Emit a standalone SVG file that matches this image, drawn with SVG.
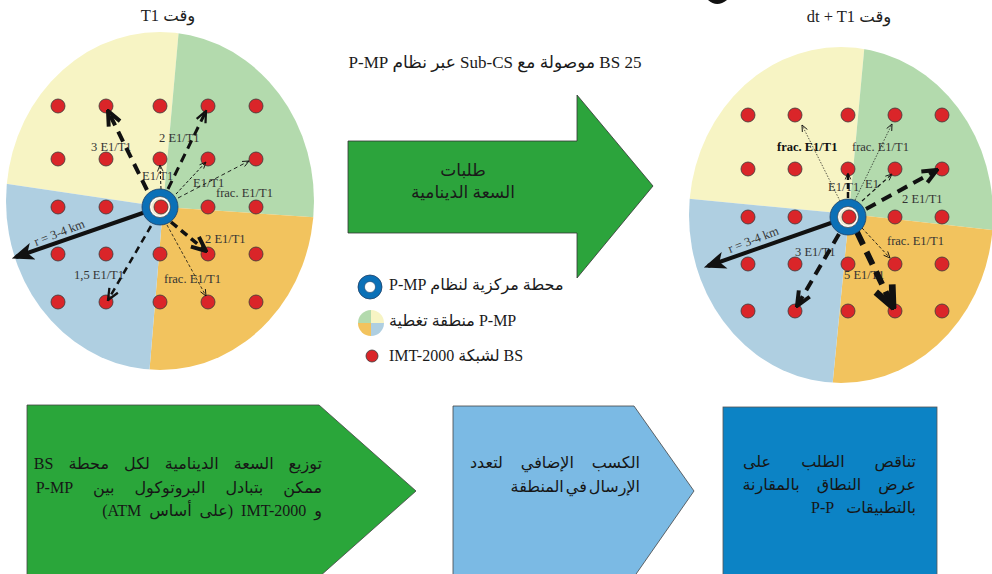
<svg xmlns="http://www.w3.org/2000/svg" width="992" height="574" viewBox="0 0 992 574">
<defs>
<style>
.lat{font-family:"Liberation Serif","Times New Roman",serif;font-size:12.5px;fill:#333}
.latb{font-family:"Liberation Serif","Times New Roman",serif;font-size:12.5px;fill:#111;font-weight:bold}
.ttl{font-family:"Liberation Serif","DejaVu Sans",serif;font-size:16.5px;fill:#222}
.ar{font-family:"Liberation Serif","DejaVu Sans",serif;font-size:16px;fill:#1a1a1a}
.box{font-family:"Liberation Serif","DejaVu Sans",serif;font-size:16px;fill:#161616}
.dot{fill:#DA2529;stroke:#3a3a3a;stroke-width:0.8}
.yel{fill:#F7F4C4}.grn{fill:#B3DAAD}.blu{fill:#AFCFE1}.org{fill:#F2C35E}
.cn{fill:none;stroke:#111}
.hubo{fill:#0B70B7;stroke:#1d3f66;stroke-width:0.8}
.hubi{fill:#fff;stroke:#444;stroke-width:0.7}
</style>
<marker id="hs" viewBox="0 0 10 10" refX="9" refY="5" markerWidth="8" markerHeight="8" markerUnits="userSpaceOnUse" orient="auto"><path d="M1,1.5 L9,5 L1,8.5" fill="none" stroke="#111" stroke-width="1.1"/></marker>
<marker id="hm" viewBox="0 0 10 10" refX="9" refY="5" markerWidth="14" markerHeight="14" markerUnits="userSpaceOnUse" orient="auto"><path d="M1,1.5 L9,5 L1,8.5" fill="none" stroke="#111" stroke-width="1.6"/></marker>
<marker id="hl" viewBox="0 0 10 10" refX="9" refY="5" markerWidth="18" markerHeight="18" markerUnits="userSpaceOnUse" orient="auto"><path d="M1,1.5 L9,5 L1,8.5" fill="none" stroke="#111" stroke-width="2.2"/></marker>
<marker id="hx" viewBox="0 0 10 10" refX="9" refY="5" markerWidth="26" markerHeight="26" markerUnits="userSpaceOnUse" orient="auto"><path d="M1,1.5 L9,5 L1,8.5" fill="none" stroke="#111" stroke-width="2.6"/></marker>
<marker id="hf" viewBox="0 0 10 10" refX="8" refY="5" markerWidth="22" markerHeight="22" markerUnits="userSpaceOnUse" orient="auto"><path d="M0,1 L10,5 L0,9 L2.5,5 z" fill="#111"/></marker>
<clipPath id="clipL"><ellipse cx="160" cy="201" rx="154" ry="169"/></clipPath>
<clipPath id="clipR"><ellipse cx="841" cy="215" rx="152" ry="168"/></clipPath>
<circle id="bs" r="7" class="dot"/>
</defs>

<!-- truncated glyph at the top edge -->
<path d="M708,0 Q717,8 727,0 Z" fill="#111"/>

<!-- titles -->
<text class="ttl" x="168" y="21" text-anchor="middle" direction="rtl">وقت T1</text>
<text class="ttl" x="849" y="22" text-anchor="middle" direction="rtl">وقت dt + T1</text>
<text class="ar" x="495" y="68" text-anchor="middle" direction="rtl" style="font-size:17px">25 BS موصولة مع Sub-CS عبر نظام P-MP</text>

<!-- coverage area at time T1 -->
<g id="coverage-left" clip-path="url(#clipL)">
  <polygon class="yel" points="163,207 182,-5 -20,-5 -20,180"/>
  <polygon class="grn" points="163,207 182,-5 340,-5 340,219"/>
  <polygon class="org" points="163,207 340,219 340,400 147,400"/>
  <polygon class="blu" points="163,207 147,400 -20,400 -20,180"/>
</g>

<!-- coverage area at time T1 + dt -->
<g id="coverage-right" clip-path="url(#clipR)">
  <polygon class="yel" points="849,214 866,30 670,30 670,197"/>
  <polygon class="grn" points="849,214 866,30 1010,30 1010,232"/>
  <polygon class="org" points="849,214 1010,232 1010,400 831,400"/>
  <polygon class="blu" points="849,214 831,400 670,400 670,197"/>
</g>

<!-- IMT-2000 base stations -->
<g id="bs-left">
  <use href="#bs" x="58" y="106"/><use href="#bs" x="106" y="106"/><use href="#bs" x="160" y="106"/><use href="#bs" x="208" y="106"/><use href="#bs" x="256" y="106"/>
  <use href="#bs" x="58" y="159"/><use href="#bs" x="106" y="159"/><use href="#bs" x="160" y="159"/><use href="#bs" x="208" y="159"/><use href="#bs" x="256" y="159"/>
  <use href="#bs" x="58" y="207"/><use href="#bs" x="106" y="207"/><use href="#bs" x="208" y="207"/><use href="#bs" x="256" y="207"/>
  <use href="#bs" x="58" y="254"/><use href="#bs" x="106" y="254"/><use href="#bs" x="160" y="254"/><use href="#bs" x="208" y="254"/><use href="#bs" x="256" y="254"/>
  <use href="#bs" x="58" y="302"/><use href="#bs" x="106" y="302"/><use href="#bs" x="160" y="302"/><use href="#bs" x="208" y="302"/><use href="#bs" x="256" y="302"/>
</g>
<g id="bs-right">
  <use href="#bs" x="748" y="115"/><use href="#bs" x="795" y="115"/><use href="#bs" x="848" y="115"/><use href="#bs" x="895" y="115"/><use href="#bs" x="942" y="115"/>
  <use href="#bs" x="748" y="169"/><use href="#bs" x="795" y="169"/><use href="#bs" x="848" y="169"/><use href="#bs" x="895" y="169"/><use href="#bs" x="942" y="169"/>
  <use href="#bs" x="748" y="217"/><use href="#bs" x="795" y="217"/><use href="#bs" x="895" y="217"/><use href="#bs" x="942" y="217"/>
  <use href="#bs" x="748" y="264"/><use href="#bs" x="795" y="264"/><use href="#bs" x="848" y="264"/><use href="#bs" x="895" y="264"/><use href="#bs" x="942" y="264"/>
  <use href="#bs" x="748" y="311"/><use href="#bs" x="795" y="311"/><use href="#bs" x="848" y="311"/><use href="#bs" x="895" y="311"/><use href="#bs" x="942" y="311"/>
</g>

<!-- capacity labels -->
<g id="labels-left">
  <text class="lat" x="91" y="151">3 E1/T1</text>
  <text class="lat" x="159" y="142">2 E1/T1</text>
  <text class="lat" x="142" y="180">E1/T1</text>
  <text class="lat" x="193" y="187">E1/T1</text>
  <text class="lat" x="216" y="197">frac. E1/T1</text>
  <text class="lat" x="205" y="243">2 E1/T1</text>
  <text class="lat" x="74" y="279">1,5 E1/T1</text>
  <text class="lat" x="164" y="283">frac. E1/T1</text>
  <text class="lat" x="36" y="246" transform="rotate(-21 36 246)">r = 3-4 km</text>
</g>
<g id="labels-right">
  <text class="latb" x="777" y="151">frac. E1/T1</text>
  <text class="lat" x="852" y="151">frac. E1/T1</text>
  <text class="lat" x="828" y="191">E1/T1</text>
  <text class="lat" x="865" y="188">E1</text>
  <text class="lat" x="902" y="203">2 E1/T1</text>
  <text class="lat" x="887" y="245">frac. E1/T1</text>
  <text class="lat" x="795" y="256">3 E1/T1</text>
  <text class="lat" x="844" y="279">5 E1/T1</text>
  <text class="lat" x="730" y="253" transform="rotate(-21 730 253)">r = 3-4 km</text>
</g>

<!-- links from the P-MP central stations -->
<g id="connectors" class="cn">
  <line x1="147" y1="190" x2="108" y2="111" stroke-width="4" stroke-dasharray="11 7" marker-end="url(#hl)"/>
  <line x1="168" y1="189" x2="206" y2="111" stroke-width="3" stroke-dasharray="9 6" marker-end="url(#hm)"/>
  <line x1="161" y1="189" x2="160" y2="165" stroke-width="1" stroke-dasharray="3 2" marker-end="url(#hs)"/>
  <line x1="176" y1="194" x2="206" y2="162" stroke-width="1" stroke-dasharray="3 2" marker-end="url(#hs)"/>
  <line x1="178" y1="198" x2="249" y2="161" stroke-width="0.9" stroke-dasharray="4 3" marker-end="url(#hs)"/>
  <line x1="160" y1="207" x2="16" y2="257" stroke-width="4" marker-end="url(#hf)"/>
  <line x1="151" y1="226" x2="108" y2="300" stroke-width="2.5" stroke-dasharray="7 5" marker-end="url(#hm)"/>
  <line x1="171" y1="222" x2="206" y2="251" stroke-width="3.5" stroke-dasharray="8 5" marker-end="url(#hl)"/>
  <line x1="167" y1="225" x2="206" y2="296" stroke-width="0.8" stroke-dasharray="3 2" marker-end="url(#hs)"/>

  <line x1="840" y1="201" x2="802" y2="125" stroke-width="0.7" stroke-dasharray="1.5 1.5" marker-end="url(#hs)"/>
  <line x1="855" y1="200" x2="892" y2="124" stroke-width="0.7" stroke-dasharray="1.5 1.5" marker-end="url(#hs)"/>
  <line x1="848" y1="198" x2="848" y2="173" stroke-width="2.5" stroke-dasharray="6 3" marker-end="url(#hs)"/>
  <line x1="862" y1="201" x2="892" y2="174" stroke-width="1.2" stroke-dasharray="4 3" marker-end="url(#hs)"/>
  <line x1="866" y1="209" x2="937" y2="170" stroke-width="4" stroke-dasharray="11 7" marker-end="url(#hl)"/>
  <line x1="848" y1="217" x2="708" y2="266" stroke-width="4" marker-end="url(#hf)"/>
  <line x1="839" y1="234" x2="797" y2="306" stroke-width="4" stroke-dasharray="11 7" marker-end="url(#hl)"/>
  <line x1="857" y1="232" x2="893" y2="307" stroke-width="6" stroke-dasharray="14 8" marker-end="url(#hx)"/>
  <line x1="862" y1="228" x2="890" y2="258" stroke-width="0.9" stroke-dasharray="3 2" marker-end="url(#hs)"/>
</g>

<!-- P-MP central stations -->
<g id="hub-left">
  <circle class="hubo" cx="160" cy="207" r="18"/>
  <circle class="hubi" cx="160" cy="207" r="10.5"/>
  <circle cx="160" cy="207" r="8.8" fill="#f3ead0"/>
  <circle class="dot" cx="161" cy="207" r="7"/>
</g>
<g id="hub-right">
  <circle class="hubo" cx="848" cy="217" r="18"/>
  <circle class="hubi" cx="848" cy="217" r="10.5"/>
  <circle cx="848" cy="217" r="8.8" fill="#f3ead0"/>
  <circle class="dot" cx="849" cy="217" r="7"/>
</g>

<!-- dynamic capacity request arrow -->
<g id="demand-arrow">
  <polygon points="348,141 577,141 577,95 653,186 577,278 577,233 348,233" fill="#2CA43C" stroke="#333" stroke-width="0.8"/>
  <text class="ar" x="463" y="176" text-anchor="middle" direction="rtl" style="font-size:17px">طلبات</text>
  <text class="ar" x="463" y="198" text-anchor="middle" direction="rtl" style="font-size:17px">السعة الدينامية</text>
</g>

<!-- legend -->
<g id="legend-hub">
  <circle cx="370" cy="287" r="12" fill="#0B70B7" stroke="#1d3f66" stroke-width="0.8"/>
  <circle cx="370" cy="287" r="5.5" fill="#fff" stroke="#1d3f66" stroke-width="0.6"/>
  <text class="ar" x="389" y="290" text-anchor="end" direction="rtl">محطة مركزية لنظام P-MP</text>
</g>
<g id="legend-area">
  <path class="grn" d="M371,323 L358,323 A13,13 0 0 1 371,310 Z"/>
  <path class="yel" d="M371,323 L371,310 A13,13 0 0 1 384,323 Z"/>
  <path class="blu" d="M371,323 L384,323 A13,13 0 0 1 371,336 Z"/>
  <path class="org" d="M371,323 L371,336 A13,13 0 0 1 358,323 Z"/>
  <text class="ar" x="389" y="326" text-anchor="end" direction="rtl">P-MP منطقة تغطية</text>
</g>
<g id="legend-bs">
  <circle class="dot" cx="372" cy="356" r="6"/>
  <text class="ar" x="389" y="361" text-anchor="end" direction="rtl">BS لشبكة IMT-2000</text>
</g>

<!-- outcome boxes -->
<g id="box-distribution">
  <polygon points="27,405 319,405 416,491 319,577 27,577" fill="#2AA63A" stroke="#444" stroke-width="0.8"/>
  <text class="box" x="322" y="469" direction="rtl" word-spacing="11">توزيع السعة الدينامية لكل محطة BS</text>
  <text class="box" x="322" y="493" direction="rtl" word-spacing="16">ممكن بتبادل البروتوكول بين P-MP</text>
  <text class="box" x="322" y="516" direction="rtl" word-spacing="4">و IMT-2000 (على أساس ATM)</text>
</g>
<g id="box-gain">
  <polygon points="453,406 634,406 694,491 634,577 453,577" fill="#7BBAE4" stroke="#444" stroke-width="0.8"/>
  <text class="box" x="640" y="468" direction="rtl" word-spacing="14">الكسب الإضافي لتعدد</text>
  <text class="box" x="640" y="492" direction="rtl" word-spacing="-2">الإرسال في المنطقة</text>
</g>
<g id="box-demand">
  <rect x="723" y="407" width="214" height="170" fill="#0C83C5" stroke="#555" stroke-width="0.8"/>
  <text class="box" x="916" y="467" direction="rtl" word-spacing="26">تناقص الطلب على</text>
  <text class="box" x="916" y="490" direction="rtl" word-spacing="13">عرض النطاق بالمقارنة</text>
  <text class="box" x="916" y="513" direction="rtl" word-spacing="8">بالتطبيقات P-P</text>
</g>
</svg>
